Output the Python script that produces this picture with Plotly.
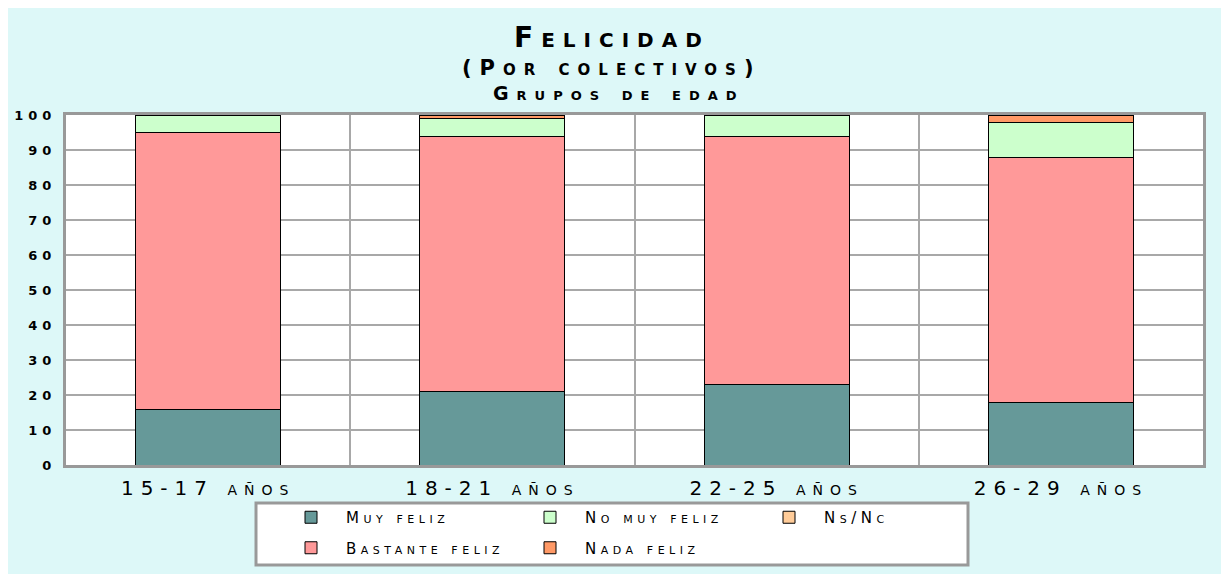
import plotly.graph_objects as go

categories = ["15-17 años", "18-21 años", "22-25 años", "26-29 años"]
muy_feliz = [16, 21, 23, 18]
bastante_feliz = [79, 73, 71, 70]
no_muy_feliz = [5, 5, 6, 10]
nada_feliz = [0, 1, 0, 2]
ns_nc = [0, 0, 0, 0]

# name, values, colour, legend column
series = [
    ("Muy feliz", muy_feliz, "#669999", "legend"),
    ("Bastante feliz", bastante_feliz, "#FF9999", "legend"),
    ("No muy feliz", no_muy_feliz, "#CCFFCC", "legend2"),
    ("Nada feliz", nada_feliz, "#FF9966", "legend2"),
    ("Ns/Nc", ns_nc, "#FFCC99", "legend3"),
]
yticks = list(range(0, 101, 10))

FONT = "DejaVu Sans"
BG = "#DDF8F8"


def ls(text, px):
    return f'<span style="letter-spacing:{px}px">{text}</span>'


fig = go.Figure()
for name, vals, color, lg in series:
    fig.add_trace(go.Bar(
        x=categories, y=vals, name=ls(name, 4.5), legend=lg, legendgroup=name,
        marker=dict(color=color, line=dict(color="black", width=1)),
    ))

# page is drawn with an 8px body margin
W, H = 1221, 566
L, R, T, B = 58, 26, 107, 109
pw, ph = W - L - R, H - T - B


def px_x(p):
    return (p - L) / pw


def px_y(p):
    return (H - B - p) / ph


leg_font = dict(size=15, family=FONT, variant="small-caps")


def leg(xpix):
    return dict(
        orientation="v", x=px_x(xpix), xanchor="left", y=px_y(493), yanchor="top",
        bgcolor="rgba(0,0,0,0)", borderwidth=0, font=leg_font,
        tracegroupgap=8, itemwidth=60,
    )


fig.update_layout(
    width=W, height=H,
    margin=dict(l=L, r=R, t=T, b=B, autoexpand=False),
    barmode="stack", bargap=0.49,
    paper_bgcolor=BG, plot_bgcolor="white",
    font=dict(family=FONT, color="black", variant="small-caps"),
    showlegend=True,
    legend=leg(268), legend2=leg(507), legend3=leg(746),
    xaxis=dict(
        tickmode="array", tickvals=categories,
        ticktext=[ls(c, 7) for c in categories],
        tickson="boundaries", ticks="", showgrid=True,
        gridcolor="#A8A8A8", gridwidth=2,
        showline=True, linecolor="#999999", linewidth=3, mirror=True,
        tickfont=dict(size=20, family=FONT, variant="small-caps"),
        ticklabelstandoff=3,
    ),
    yaxis=dict(
        range=[0, 100], tickmode="array", tickvals=yticks,
        ticktext=[ls(str(v), 5) for v in yticks],
        showgrid=True, gridcolor="#A8A8A8", gridwidth=2,
        showline=True, linecolor="#999999", linewidth=3, mirror=True,
        ticks="", zeroline=False,
        tickfont=dict(size=13, family=FONT, weight="bold"),
        ticklabelstandoff=4,
    ),
    annotations=[
        dict(text=ls("Felicidad", 8), x=px_x(604), y=px_y(29), xref="paper", yref="paper",
             xanchor="center", yanchor="middle", showarrow=False,
             font=dict(size=28, family=FONT, weight="bold", variant="small-caps")),
        dict(text=ls("(Por colectivos)", 8), x=px_x(604), y=px_y(60), xref="paper", yref="paper",
             xanchor="center", yanchor="middle", showarrow=False,
             font=dict(size=21, family=FONT, weight="bold", variant="small-caps")),
        dict(text=ls("Grupos de edad", 8), x=px_x(611), y=px_y(85), xref="paper", yref="paper",
             xanchor="center", yanchor="middle", showarrow=False,
             font=dict(size=19, family=FONT, weight="bold", variant="small-caps")),
    ],
    shapes=[
        dict(type="rect", xref="paper", yref="paper", x0=px_x(248), x1=px_x(960),
             y0=px_y(557), y1=px_y(495), fillcolor="white",
             line=dict(color="#999999", width=3), layer="above"),
    ],
)

fig.write_html("out.html")
